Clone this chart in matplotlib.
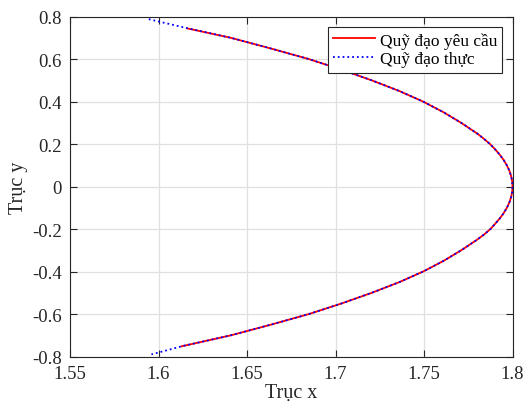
import matplotlib
matplotlib.use("Agg")
import matplotlib.pyplot as plt

plt.rcParams['font.family'] = ['Liberation Serif', 'DejaVu Serif']
plt.rcParams['axes.unicode_minus'] = False

# Desired trajectory (red, solid)
desired_y = [0.745, 0.70, 0.65, 0.60, 0.55, 0.50, 0.45, 0.40, 0.35, 0.30, 0.25, 0.225, 0.20,
             0.175, 0.15, 0.125, 0.10, 0.075, 0.05, 0.025, 0.00, -0.025, -0.05, -0.075, -0.10,
             -0.125, -0.15, -0.175, -0.20, -0.225, -0.25, -0.30, -0.35, -0.40, -0.45, -0.50, -0.55,
             -0.60, -0.65, -0.70, -0.752]
desired_x = [1.616, 1.641, 1.6635, 1.685, 1.7035, 1.7205, 1.736, 1.7495, 1.761, 1.771, 1.780, 1.7838, 1.7873,
             1.7902, 1.7928, 1.795, 1.7968, 1.7982, 1.7992, 1.7998, 1.800, 1.7998, 1.7992, 1.7982, 1.7968,
             1.795, 1.7928, 1.7902, 1.7875, 1.784, 1.780, 1.771, 1.761, 1.7495, 1.736, 1.7205, 1.7035,
             1.685, 1.6635, 1.641, 1.613]

# Actual trajectory (blue, dotted)
actual_y = [0.788, 0.75, 0.70, 0.65, 0.60, 0.55, 0.50, 0.45, 0.40, 0.35, 0.30, 0.25, 0.225, 0.20,
            0.175, 0.15, 0.125, 0.10, 0.075, 0.05, 0.025, 0.00, -0.025, -0.05, -0.075, -0.10,
            -0.125, -0.15, -0.175, -0.20, -0.225, -0.25, -0.30, -0.35, -0.40, -0.45, -0.50, -0.55,
            -0.60, -0.65, -0.70, -0.75, -0.790]
actual_x = [1.5945, 1.614, 1.641, 1.6635, 1.685, 1.7035, 1.7205, 1.736, 1.7495, 1.761, 1.771, 1.780, 1.7838, 1.7873,
            1.7902, 1.7928, 1.795, 1.7968, 1.7982, 1.7992, 1.7998, 1.800, 1.7998, 1.7992, 1.7982, 1.7968,
            1.795, 1.7928, 1.7902, 1.7875, 1.784, 1.780, 1.771, 1.761, 1.7495, 1.736, 1.7205, 1.7035,
            1.685, 1.6635, 1.641, 1.614, 1.596]

xticks = [1.55, 1.6, 1.65, 1.7, 1.75, 1.8]
xtick_labels = ['1.55', '1.6', '1.65', '1.7', '1.75', '1.8']
yticks = [-0.8, -0.6, -0.4, -0.2, 0, 0.2, 0.4, 0.6, 0.8]
ytick_labels = ['-0.8', '-0.6', '-0.4', '-0.2', '0', '0.2', '0.4', '0.6', '0.8']

fig = plt.figure(figsize=(5.24, 4.10), dpi=100)
ax = fig.add_axes([0.1336, 0.128, 0.8445, 0.829])

ax.plot(desired_x, desired_y, color='red', linewidth=1.3, label='Quỹ đạo yêu cầu')
ax.plot(actual_x, actual_y, color='blue', linewidth=1.3, linestyle=':', label='Quỹ đạo thực')

ax.set_xlim(1.55, 1.8)
ax.set_ylim(-0.8, 0.8)
ax.set_xticks(xticks)
ax.set_xticklabels(xtick_labels)
ax.set_yticks(yticks)
ax.set_yticklabels(ytick_labels)

ax.grid(True, color='#e0e0e0', linewidth=0.9)
ax.set_axisbelow(True)
for s in ax.spines.values():
    s.set_color('#262626')
    s.set_linewidth(0.8)
ax.tick_params(direction='in', length=5, width=0.8, top=True, right=True,
               labelsize=13.5, colors='#262626', pad=6)
for lbl in ax.get_xticklabels() + ax.get_yticklabels():
    lbl.set_color('#262626')

ax.set_xlabel('Trục x', fontsize=14.5, color='#262626', labelpad=1)
ax.set_ylabel('Trục y', fontsize=14.5, color='#262626', labelpad=3)

leg = ax.legend(loc='upper right', bbox_to_anchor=(0.977, 0.97), fontsize=12.5,
                frameon=True, fancybox=False, framealpha=1, edgecolor='#262626',
                handlelength=2.4, borderpad=0.3, labelspacing=0.15, handletextpad=0.3,
                borderaxespad=0)
leg.get_frame().set_linewidth(0.8)

fig.savefig('out.png', dpi=100)
